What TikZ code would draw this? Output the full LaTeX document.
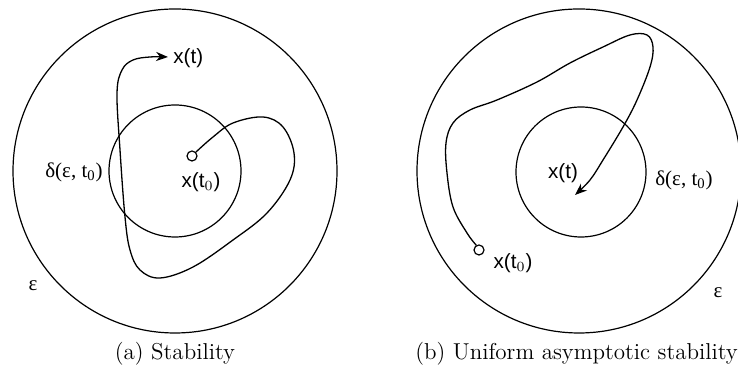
\documentclass[tikz,border=0pt]{standalone}
\usepackage{fontspec}
\newfontfamily\labelfont{Liberation Sans}
\newfontfamily\symfont{Liberation Serif}
\usepackage{tikz}
\usetikzlibrary{positioning,arrows.meta}

\tikzset{
  region/.style={line width=0.6pt},
  traj/.style={line width=0.65pt, -{Stealth[length=6pt,width=4.6pt]}},
  startdot/.style={circle, draw, line width=0.6pt, fill=white, inner sep=0pt, minimum size=5pt},
  lbl/.style={font=\labelfont\fontsize{10.3}{12}\selectfont, inner sep=0pt},
  sym/.style={font=\symfont\fontsize{10.5}{12}\selectfont, inner sep=0pt},
  caption/.style={font=\fontsize{11.5}{14}\selectfont, inner sep=0pt}
}

\begin{document}
\begin{tikzpicture}[x=0.5pt,y=0.5pt, line cap=round, line join=round]
\useasboundingbox (0,0) rectangle (738,378);
\clip (0,0) rectangle (738,378);

% (a) stability
\begin{scope}
  % epsilon and delta regions
  \draw[region] (175,207) circle (162);
  \draw[region] (175,207) circle (66);

  % initial state
  \node[startdot] (x0a) at (192,222) {};

  % trajectory
  \draw[traj] plot[smooth, tension=0.6] coordinates {
    (x0a.45) (213,241) (233,255) (263,261) (283,251) (294,225) (290,198)
    (267,165) (233,138) (193,111) (160,100) (140,108) (130,128) (125,161)
    (120,228) (117,285) (122,308) (133,318) (150,321) (168,321)};

  % labels
  \node[lbl, anchor=west] (xta) at (173,320) {x(t)};
  \node[lbl] (xt0a) at (201,196) {x(t$_0$)};
  \node[sym] (dela) at (74,206) {δ(ε, t\textsubscript{0})};
  \node[sym] (epsa) at (33,92) {ε};
  \node[caption] (capa) at (175,24) {(a) Stability};
\end{scope}

% (b) uniform asymptotic stability
\begin{scope}
  % epsilon and delta regions
  \draw[region] (579,207) circle (162);
  \draw[region] (581,206) circle (65);

  % initial state
  \node[startdot] (x0b) at (479,128) {};

  % trajectory
  \draw[traj] plot[smooth, tension=0.6] coordinates {
    (x0b.120) (467,145) (453,171) (447,205) (446,235) (453,255) (470,268)
    (497,278) (537,296) (570,315) (603,331) (630,343) (647,343) (653,331)
    (650,311) (637,278) (623,251) (603,218) (590,198) (575,183)};

  % labels
  \node[lbl] (xtb) at (563,205) {x(t)};
  \node[lbl] (xt0b) at (513,115) {x(t$_0$)};
  \node[sym] (delb) at (684,198) {δ(ε, t\textsubscript{0})};
  \node[sym] (epsb) at (718,85) {ε};
  \node[caption, anchor=west] (capb) at (415,24) {(b) Uniform asymptotic stability};
\end{scope}
\end{tikzpicture}
\end{document}
